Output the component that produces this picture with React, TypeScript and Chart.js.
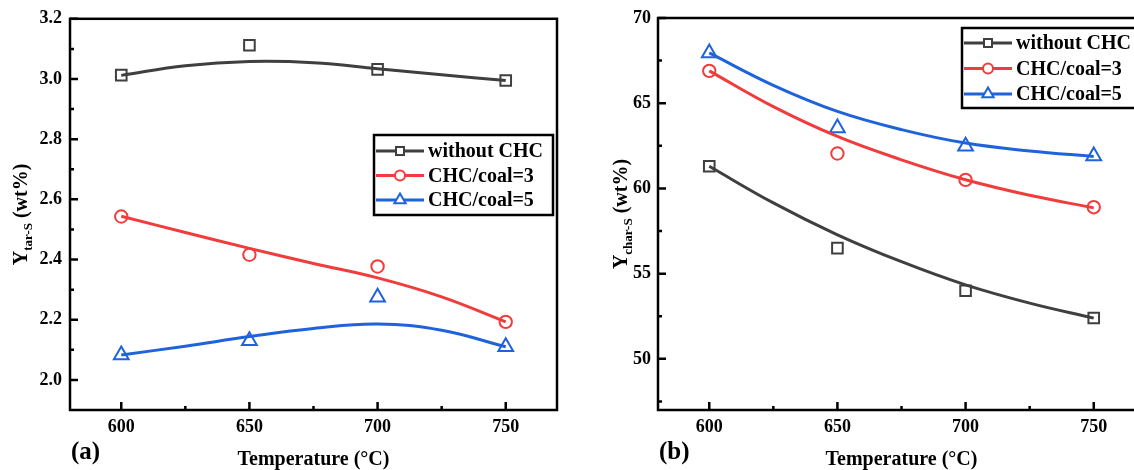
import React, { useEffect, useRef } from "react";
import { Chart, registerables } from "chart.js";

Chart.register(...registerables);

// ---------- data ----------
const temps = [600, 650, 700, 750];
const fitTemps = [600, 625, 650, 675, 700, 725, 750];

const seriesNames = ["without CHC", "CHC/coal=3", "CHC/coal=5"];

// panel (a): tar sulfur yield
const tarWithout = [3.013, 3.112, 3.032, 2.995];
const tarCHC3 = [2.543, 2.416, 2.377, 2.193];
const tarCHC5 = [2.083, 2.13, 2.275, 2.11];
const tarFitWithout = [3.012, 3.044, 3.058, 3.054, 3.034, 3.014, 2.995];
const tarFitCHC3 = [2.544, 2.49, 2.437, 2.387, 2.339, 2.276, 2.193];
const tarFitCHC5 = [2.083, 2.112, 2.144, 2.171, 2.186, 2.165, 2.11];

// panel (b): char sulfur yield
const charWithout = [61.3, 56.5, 54.0, 52.4];
const charCHC3 = [66.9, 62.05, 60.5, 58.9];
const charCHC5 = [67.95, 63.55, 62.47, 61.9];
const charFitWithout = [61.3, 59.15, 57.28, 55.7, 54.34, 53.27, 52.39];
const charFitCHC3 = [66.9, 64.8, 63.05, 61.68, 60.51, 59.6, 58.86];
const charFitCHC5 = [67.95, 66.05, 64.52, 63.45, 62.66, 62.2, 61.88];

// ticks
const xTicks = [600, 650, 700, 750];
const xMinorTicks = [625, 675, 725];
const tarYTicks = [2.0, 2.2, 2.4, 2.6, 2.8, 3.0, 3.2];
const tarYMinor = [2.1, 2.3, 2.5, 2.7, 2.9, 3.1];
const charYTicks = [50, 55, 60, 65, 70];
const charYMinor = [47.5, 52.5, 57.5, 62.5, 67.5];

// ---------- styles ----------
const colors = ["#3f3f3f", "#f03c3c", "#1f63dc"];
const markers = ["rect", "circle", "triangle"];
const markerRadius = [7.5, 6.2, 8.5];
const FONT = "'Liberation Serif', 'Times New Roman', serif";

function drawMarker(ctx: CanvasRenderingContext2D, style: string, cx: number, cy: number, s: number) {
  ctx.beginPath();
  if (style === "rect") {
    ctx.rect(cx - s * 0.8, cy - s * 0.8, s * 1.6, s * 1.6);
  } else if (style === "circle") {
    ctx.arc(cx, cy, s, 0, Math.PI * 2);
  } else {
    const r = s * 1.3;
    ctx.moveTo(cx, cy - r);
    ctx.lineTo(cx + r * Math.sin(Math.PI / 3), cy + r * 0.5);
    ctx.lineTo(cx - r * Math.sin(Math.PI / 3), cy + r * 0.5);
    ctx.closePath();
  }
  ctx.fillStyle = "#fff";
  ctx.fill();
  ctx.stroke();
}

const decorPlugin = {
  id: "decor",
  afterDatasetsDraw(chart: any, _args: any, opts: any) {
    const { ctx, chartArea: a, scales } = chart;
    const xs = scales.x;
    const ys = scales.y;
    ctx.save();
    // frame
    ctx.strokeStyle = "#000";
    ctx.lineWidth = 2.5;
    ctx.strokeRect(a.left, a.top, a.right - a.left, a.bottom - a.top);
    // inward ticks
    ctx.beginPath();
    for (const v of opts.xMajor) {
      const p = xs.getPixelForValue(v);
      ctx.moveTo(p, a.bottom);
      ctx.lineTo(p, a.bottom - 8);
    }
    for (const v of opts.xMinor) {
      const p = xs.getPixelForValue(v);
      ctx.moveTo(p, a.bottom);
      ctx.lineTo(p, a.bottom - 4);
    }
    for (const v of opts.yMajor) {
      const p = ys.getPixelForValue(v);
      ctx.moveTo(a.left, p);
      ctx.lineTo(a.left + 8, p);
    }
    for (const v of opts.yMinor) {
      const p = ys.getPixelForValue(v);
      ctx.moveTo(a.left, p);
      ctx.lineTo(a.left + 4, p);
    }
    ctx.stroke();

    // legend
    const lg = opts.legend;
    ctx.lineWidth = 2.5;
    ctx.strokeStyle = "#000";
    ctx.strokeRect(lg.x, lg.y, lg.w, lg.h);
    ctx.font = `bold 20px ${FONT}`;
    ctx.textBaseline = "middle";
    ctx.textAlign = "left";
    seriesNames.forEach((name, i) => {
      const ry = lg.y + lg.rowStart + i * lg.rowGap;
      ctx.strokeStyle = colors[i];
      ctx.lineWidth = 3;
      ctx.beginPath();
      ctx.moveTo(lg.x + 2, ry);
      ctx.lineTo(lg.x + 50, ry);
      ctx.stroke();
      ctx.lineWidth = 2;
      drawMarker(ctx, markers[i], lg.x + 26, ry, 5);
      ctx.fillStyle = "#000";
      ctx.fillText(name, lg.x + 54, ry + 1);
    });
    ctx.restore();
  },
  afterDraw(chart: any, _args: any, opts: any) {
    const { ctx, chartArea: a } = chart;
    ctx.save();
    ctx.fillStyle = "#000";
    // x title
    ctx.font = `bold 20px ${FONT}`;
    ctx.textAlign = "center";
    ctx.textBaseline = "middle";
    ctx.fillText("Temperature (\u00B0C)", (a.left + a.right) / 2, 460);
    // panel label
    ctx.font = `bold 25px ${FONT}`;
    ctx.textAlign = "left";
    ctx.fillText(opts.panel, a.left + 1, 453);
    // y title with subscript, rotated
    const cx = opts.yTitleX;
    const cy = (a.top + a.bottom) / 2;
    ctx.translate(cx, cy);
    ctx.rotate(-Math.PI / 2);
    ctx.textBaseline = "alphabetic";
    const big = `bold 20px ${FONT}`;
    const small = `bold 13px ${FONT}`;
    ctx.font = big;
    const w1 = ctx.measureText("Y").width;
    const w3 = ctx.measureText(" (wt%)").width;
    ctx.font = small;
    const w2 = ctx.measureText(opts.sub).width;
    let x = -(w1 + w2 + w3) / 2;
    const base = 7;
    ctx.font = big;
    ctx.fillText("Y", x, base);
    x += w1;
    ctx.font = small;
    ctx.fillText(opts.sub, x, base + 5);
    x += w2;
    ctx.font = big;
    ctx.fillText(" (wt%)", x, base);
    ctx.restore();
  },
};

function buildConfig(p: any) {
  const datasets: any[] = [];
  p.fits.forEach((fit: number[], i: number) => {
    datasets.push({
      type: "line",
      data: fitTemps.map((t, k) => ({ x: t, y: fit[k] })),
      borderColor: colors[i],
      borderWidth: 3,
      pointRadius: 0,
      tension: 0.4,
      fill: false,
    });
  });
  p.points.forEach((pts: number[], i: number) => {
    datasets.push({
      type: "scatter",
      data: temps.map((t, k) => ({ x: t, y: pts[k] })),
      pointStyle: markers[i],
      pointRadius: markerRadius[i],
      pointBorderWidth: 2,
      borderColor: colors[i],
      backgroundColor: "#fff",
      pointBackgroundColor: "#fff",
      pointBorderColor: colors[i],
      showLine: false,
    });
  });
  return {
    type: "scatter",
    data: { datasets },
    plugins: [decorPlugin],
    options: {
      responsive: false,
      animation: false,
      events: [],
      layout: { padding: { top: p.top, right: p.right, left: 0, bottom: 0 } },
      plugins: {
        legend: { display: false },
        tooltip: { enabled: false },
        decor: {
          xMajor: xTicks,
          xMinor: xMinorTicks,
          yMajor: p.yTicks,
          yMinor: p.yMinor,
          legend: p.legend,
          panel: p.panel,
          sub: p.sub,
          yTitleX: p.yTitleX,
        },
      },
      scales: {
        x: {
          type: "linear",
          min: 580,
          max: 770,
          grid: { display: false, drawTicks: false },
          border: { display: false },
          afterBuildTicks: (s: any) => {
            s.ticks = xTicks.map((v) => ({ value: v }));
          },
          afterFit: (s: any) => {
            s.height = 470 - p.bottom;
          },
          ticks: {
            color: "#000",
            padding: 7,
            maxRotation: 0,
            font: { family: FONT, size: 18, weight: "bold" },
            callback: (v: any) => String(v),
          },
        },
        y: {
          type: "linear",
          min: p.yMin,
          max: p.yMax,
          grid: { display: false, drawTicks: false },
          border: { display: false },
          afterBuildTicks: (s: any) => {
            s.ticks = p.yTicks.map((v: number) => ({ value: v }));
          },
          afterFit: (s: any) => {
            s.width = p.left;
          },
          ticks: {
            color: "#000",
            padding: p.yPad,
            font: { family: FONT, size: 18, weight: "bold" },
            callback: (v: any) => p.fmt(v),
          },
        },
      },
    },
  };
}

const panelA = {
  panel: "(a)",
  sub: "tar-S",
  points: [tarWithout, tarCHC3, tarCHC5],
  fits: [tarFitWithout, tarFitCHC3, tarFitCHC5],
  yMin: 1.9,
  yMax: 3.2,
  yTicks: tarYTicks,
  yMinor: tarYMinor,
  fmt: (v: number) => Number(v).toFixed(1),
  top: 18,
  bottom: 410,
  left: 70,
  right: 13,
  yPad: 8,
  yTitleX: 20,
  legend: { x: 374, y: 135, w: 179, h: 80, rowStart: 16, rowGap: 24.5 },
  width: 570,
  canvasLeft: 0,
};

const panelB = {
  panel: "(b)",
  sub: "char-S",
  points: [charWithout, charCHC3, charCHC5],
  fits: [charFitWithout, charFitCHC3, charFitCHC5],
  yMin: 47,
  yMax: 70,
  yTicks: charYTicks,
  yMinor: charYMinor,
  fmt: (v: number) => String(Math.round(v)),
  top: 18,
  bottom: 410,
  left: 88,
  right: 25,
  yPad: 7,
  yTitleX: 50,
  legend: { x: 392, y: 28, w: 178, h: 80, rowStart: 15, rowGap: 25.5 },
  width: 600,
  canvasLeft: 570,
};

function Panel({ p }: { p: any }) {
  const ref = useRef<HTMLCanvasElement | null>(null);
  useEffect(() => {
    if (!ref.current) return;
    const chart = new Chart(ref.current, buildConfig(p) as any);
    return () => chart.destroy();
  }, [p]);
  return (
    <canvas
      ref={ref}
      width={p.width}
      height={470}
      style={{ position: "absolute", left: p.canvasLeft, top: 0, width: p.width, height: 470 }}
    />
  );
}

export default function App() {
  return (
    <div
      style={{
        position: "fixed",
        left: 0,
        top: 0,
        width: 1134,
        height: 470,
        overflow: "hidden",
        background: "#fff",
      }}
    >
      <Panel p={panelA} />
      <Panel p={panelB} />
    </div>
  );
}
